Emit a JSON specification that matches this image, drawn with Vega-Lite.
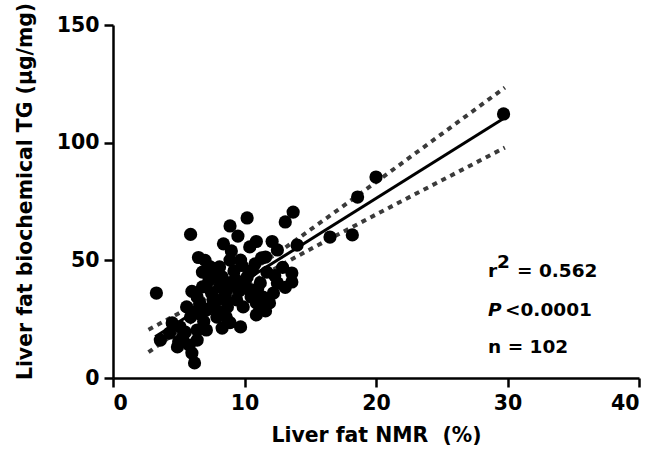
{
  "$schema": "https://vega.github.io/schema/vega-lite/v6.json",
  "width": 526,
  "height": 353,
  "autosize": "none",
  "padding": {"left": 113, "top": 25, "right": 19, "bottom": 92},
  "background": "white",
  "config": {
    "view": {"stroke": null},
    "axis": {
      "grid": false,
      "domainColor": "black",
      "domainWidth": 2.5,
      "tickColor": "black",
      "tickWidth": 2.5,
      "tickSize": 9,
      "labelFont": "DejaVu Sans",
      "labelFontWeight": "bold",
      "labelFontSize": 20.5,
      "labelColor": "black",
      "titleFont": "DejaVu Sans",
      "titleFontWeight": "bold",
      "titleFontSize": 20.4,
      "titleColor": "black"
    }
  },
  "datasets": {
    "points": [
      {"x": 29.7, "y": 112.2}, {"x": 20.0, "y": 85.4}, {"x": 18.6, "y": 76.9}, {"x": 18.2, "y": 60.8},
      {"x": 16.5, "y": 59.9}, {"x": 13.7, "y": 70.5}, {"x": 13.1, "y": 66.3}, {"x": 10.2, "y": 68.0},
      {"x": 8.9, "y": 64.6}, {"x": 9.5, "y": 60.3}, {"x": 8.4, "y": 57.0}, {"x": 10.9, "y": 58.0},
      {"x": 12.1, "y": 58.0}, {"x": 10.4, "y": 55.7}, {"x": 12.5, "y": 54.4}, {"x": 14.0, "y": 56.5},
      {"x": 5.9, "y": 61.0}, {"x": 3.3, "y": 36.1}, {"x": 6.5, "y": 51.2}, {"x": 8.9, "y": 50.1},
      {"x": 9.7, "y": 50.1}, {"x": 11.3, "y": 51.0}, {"x": 10.4, "y": 45.0}, {"x": 6.8, "y": 45.0},
      {"x": 7.6, "y": 45.9}, {"x": 11.7, "y": 45.0}, {"x": 10.9, "y": 26.8}, {"x": 13.6, "y": 44.6},
      {"x": 13.6, "y": 40.8}, {"x": 9.7, "y": 21.7}, {"x": 8.3, "y": 21.2}, {"x": 3.6, "y": 16.1},
      {"x": 6.2, "y": 6.4}, {"x": 6.0, "y": 10.6}, {"x": 4.9, "y": 13.2}, {"x": 5.3, "y": 17.4},
      {"x": 4.5, "y": 23.4}, {"x": 6.4, "y": 20.4}, {"x": 5.6, "y": 30.2}, {"x": 6.4, "y": 34.4},
      {"x": 7.1, "y": 38.7}, {"x": 7.9, "y": 42.9}, {"x": 11.4, "y": 34.4}, {"x": 12.2, "y": 36.1},
      {"x": 11.9, "y": 31.9}, {"x": 10.2, "y": 42.9}, {"x": 9.4, "y": 33.2}, {"x": 8.7, "y": 30.2},
      {"x": 7.6, "y": 33.2}, {"x": 7.1, "y": 28.9}, {"x": 7.9, "y": 25.9}, {"x": 8.9, "y": 40.4},
      {"x": 8.1, "y": 47.2}, {"x": 7.4, "y": 47.2}, {"x": 10.6, "y": 45.9}, {"x": 11.2, "y": 40.4},
      {"x": 12.5, "y": 40.4}, {"x": 10.4, "y": 37.4}, {"x": 9.9, "y": 30.2}, {"x": 10.9, "y": 31.9},
      {"x": 8.1, "y": 38.7}, {"x": 6.8, "y": 38.7}, {"x": 6.6, "y": 31.9}, {"x": 5.9, "y": 25.9},
      {"x": 5.1, "y": 21.7}, {"x": 6.4, "y": 16.1}, {"x": 4.3, "y": 19.1}, {"x": 7.1, "y": 20.4},
      {"x": 11.6, "y": 51.4}, {"x": 9.2, "y": 45.5}, {"x": 8.5, "y": 35.5}, {"x": 9.6, "y": 37.0},
      {"x": 10.0, "y": 40.0}, {"x": 7.5, "y": 36.0}, {"x": 8.3, "y": 43.0}, {"x": 8.6, "y": 26.0},
      {"x": 7.7, "y": 30.5}, {"x": 6.2, "y": 28.0}, {"x": 5.5, "y": 19.5}, {"x": 5.0, "y": 15.5},
      {"x": 12.9, "y": 47.0}, {"x": 11.0, "y": 38.0}, {"x": 9.8, "y": 47.8}, {"x": 8.6, "y": 33.0},
      {"x": 7.3, "y": 41.5}, {"x": 10.5, "y": 34.5}, {"x": 6.0, "y": 36.8}, {"x": 9.3, "y": 42.0},
      {"x": 11.6, "y": 28.5}, {"x": 8.0, "y": 28.0}, {"x": 6.9, "y": 24.0}, {"x": 12.3, "y": 43.5},
      {"x": 11.3, "y": 29.5}, {"x": 8.7, "y": 38.0}, {"x": 7.9, "y": 33.0}, {"x": 8.9, "y": 23.5},
      {"x": 5.8, "y": 14.0}, {"x": 13.1, "y": 38.5}, {"x": 10.8, "y": 48.5}, {"x": 7.0, "y": 50.0},
      {"x": 9.0, "y": 54.0}, {"x": 6.7, "y": 27.0}
    ],
    "bands": [
      {"x": 2.7, "y": 20.55, "bound": "upper"}, {"x": 6.0, "y": 30.47, "bound": "upper"},
      {"x": 9.5, "y": 41.87, "bound": "upper"}, {"x": 13.0, "y": 54.99, "bound": "upper"},
      {"x": 16.5, "y": 68.98, "bound": "upper"}, {"x": 20.0, "y": 83.22, "bound": "upper"},
      {"x": 23.5, "y": 97.55, "bound": "upper"}, {"x": 26.5, "y": 109.86, "bound": "upper"},
      {"x": 29.8, "y": 123.42, "bound": "upper"},
      {"x": 2.7, "y": 10.97, "bound": "lower"}, {"x": 6.0, "y": 24.15, "bound": "lower"},
      {"x": 9.5, "y": 37.27, "bound": "lower"}, {"x": 13.0, "y": 48.67, "bound": "lower"},
      {"x": 16.5, "y": 59.18, "bound": "lower"}, {"x": 20.0, "y": 69.46, "bound": "lower"},
      {"x": 23.5, "y": 79.65, "bound": "lower"}, {"x": 26.5, "y": 88.34, "bound": "lower"},
      {"x": 29.8, "y": 97.9, "bound": "lower"}
    ],
    "fit": [
      {"x": 3.2, "y": 17.5}, {"x": 29.7, "y": 110.3}
    ]
  },
  "layer": [
    {
      "data": {"name": "bands"},
      "mark": {"type": "line", "color": "#3a3a3a", "strokeWidth": 4, "strokeDash": [5, 5]},
      "encoding": {
        "x": {"field": "x", "type": "quantitative",
              "scale": {"domain": [0, 40], "nice": false},
              "axis": {"values": [0, 10, 20, 30, 40], "title": "Liver fat NMR\u00a0 (%)", "labelPadding": 6, "titlePadding": 12}},
        "y": {"field": "y", "type": "quantitative",
              "scale": {"domain": [0, 150], "nice": false},
              "axis": {"values": [0, 50, 100, 150], "title": "Liver fat biochemical TG (μg/mg)", "labelPadding": 5, "titleX": -78, "titleY": 166, "titleBaseline": "bottom"}},
        "detail": {"field": "bound", "type": "nominal"}
      }
    },
    {
      "data": {"name": "fit"},
      "mark": {"type": "line", "color": "black", "strokeWidth": 3},
      "encoding": {
        "x": {"field": "x", "type": "quantitative"},
        "y": {"field": "y", "type": "quantitative"}
      }
    },
    {
      "data": {"name": "points"},
      "mark": {"type": "circle", "size": 175, "color": "black", "opacity": 1},
      "encoding": {
        "x": {"field": "x", "type": "quantitative"},
        "y": {"field": "y", "type": "quantitative"}
      }
    },
    {
      "data": {"values": [
        {"x": 28.52, "y": 42.92, "t": "r"},
        {"x": 29.2, "y": 46.75, "t": "2"},
        {"x": 30.72, "y": 42.92, "t": "= 0.562"},
        {"x": 29.81, "y": 26.35, "t": "<0.0001"},
        {"x": 28.52, "y": 10.62, "t": "n = 102"}
      ]},
      "mark": {"type": "text", "align": "left", "baseline": "alphabetic", "font": "DejaVu Sans", "fontWeight": "bold", "fontSize": 18.5, "color": "black"},
      "encoding": {
        "x": {"field": "x", "type": "quantitative"},
        "y": {"field": "y", "type": "quantitative"},
        "text": {"field": "t", "type": "nominal"}
      }
    },
    {
      "data": {"values": [{"x": 28.52, "y": 26.35, "t": "P"}]},
      "mark": {"type": "text", "align": "left", "baseline": "alphabetic", "font": "DejaVu Sans", "fontWeight": "bold", "fontStyle": "italic", "fontSize": 18.5, "color": "black"},
      "encoding": {
        "x": {"field": "x", "type": "quantitative"},
        "y": {"field": "y", "type": "quantitative"},
        "text": {"field": "t", "type": "nominal"}
      }
    }
  ]
}
